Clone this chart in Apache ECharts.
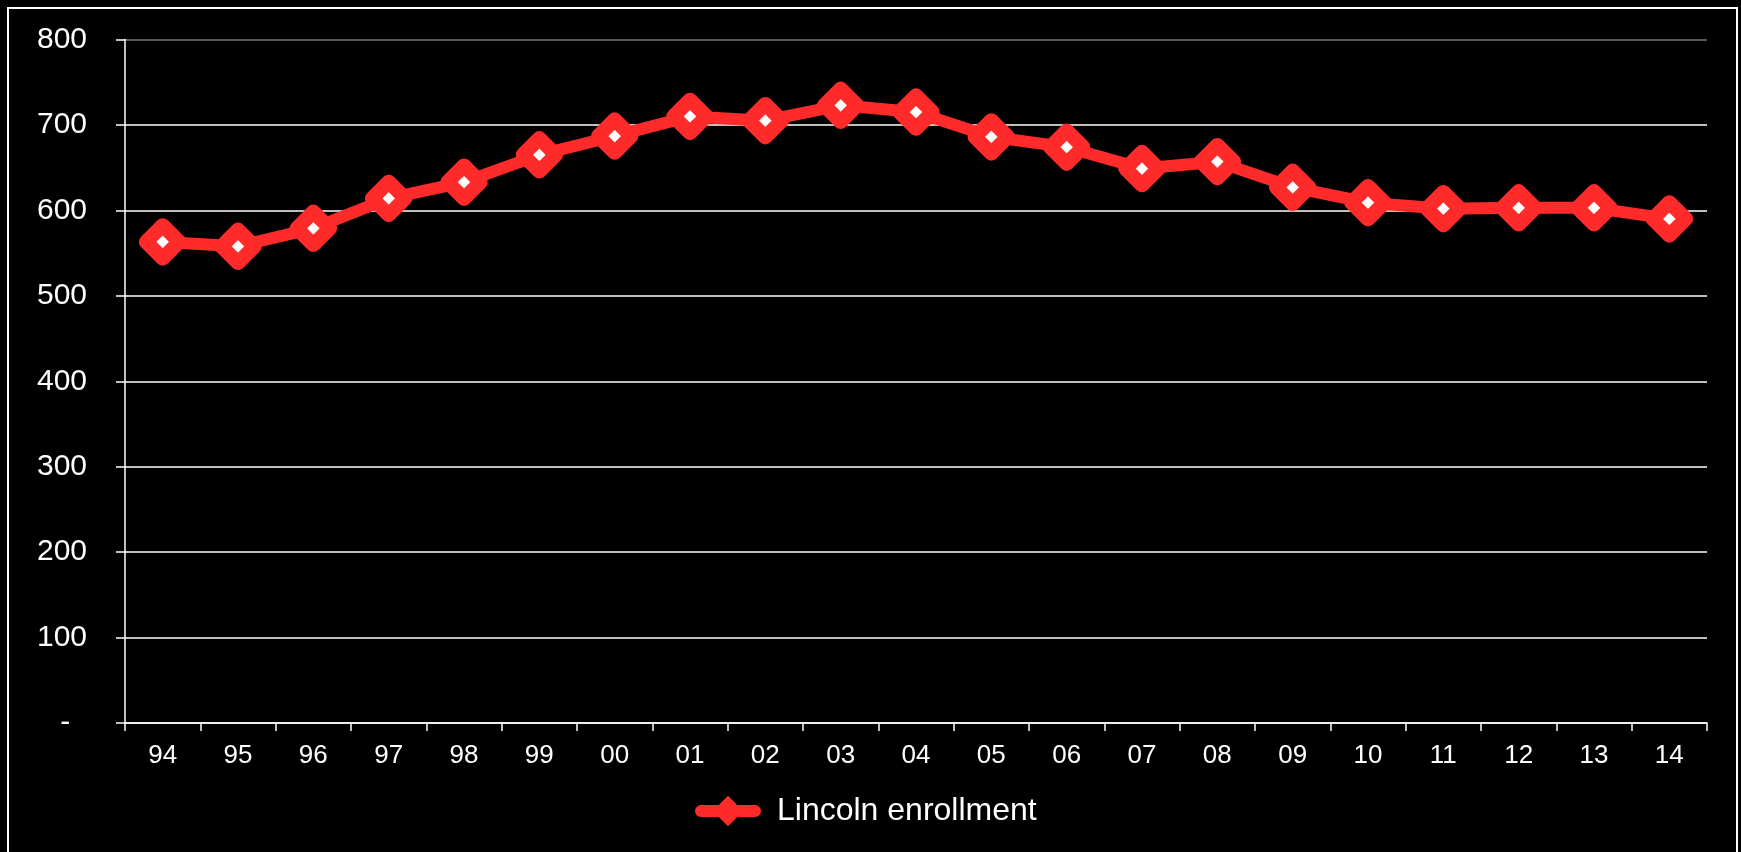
<!DOCTYPE html>
<html>
<head>
<meta charset="utf-8">
<style>
html,body{margin:0;padding:0;background:#000;}
#c{width:1741px;height:852px;}
</style>
<script src="https://cdn.jsdelivr.net/npm/echarts@6/dist/echarts.min.js"></script>
</head>
<body>
<div id="c"></div>
<script>
const categories = ['94','95','96','97','98','99','00','01','02','03','04','05','06','07','08','09','10','11','12','13','14'];
const enrollment = [563,558,579,614,633,665,687,710,705,723,715,686,674,649,657,627,609,602,603,603,590];
const seriesName = 'Lincoln enrollment';
const yTicks = [0,100,200,300,400,500,600,700,800];

const RED = '#FF2B2B';
const FONT = 'Liberation Sans, Arial, sans-serif';
const chart = echarts.init(document.getElementById('c'));
chart.setOption({
  backgroundColor: '#000',
  animation: false,
  graphic: [{
    type: 'rect',
    shape: {x: 8, y: 8, width: 1729, height: 900},
    style: {fill: 'none', stroke: '#fff', lineWidth: 2},
    silent: true
  }],
  grid: {left: 125, right: 34, top: 39.5, bottom: 129, containLabel: false},
  legend: {
    data: [seriesName],
    left: 690,
    top: 790,
    itemWidth: 54,
    itemHeight: 38,
    textStyle: {color: '#fff', fontSize: 32, fontFamily: FONT, padding: [0,0,0,17]},
    itemStyle: {color: RED, borderWidth: 0},
    lineStyle: {width: 12, cap: 'round', color: RED}
  },
  xAxis: {
    type: 'category',
    data: categories,
    boundaryGap: true,
    axisLine: {lineStyle: {color: '#fff', width: 1.5}},
    axisTick: {show: true, length: 8, interval: 0, lineStyle: {color: '#fff', width: 1.5}},
    axisLabel: {color: '#fff', fontSize: 26, fontFamily: FONT, margin: 20, interval: 0}
  },
  yAxis: {
    type: 'value',
    min: yTicks[0],
    max: yTicks[yTicks.length-1],
    interval: 100,
    axisLine: {show: true, lineStyle: {color: '#fff', width: 1.5}},
    axisTick: {show: true, inside: false, length: 9, lineStyle: {color: '#fff', width: 1.5}},
    axisLabel: {
      color: '#fff', fontSize: 30, fontFamily: FONT, margin: 38,
      formatter: v => v === 0 ? '-  ' : String(v)
    },
    splitLine: {show: true, lineStyle: {color: ['#fff','#fff','#fff','#fff','#fff','#fff','#fff','#fff','#777'], width: 1.5}}
  },
  series: [{
    name: seriesName,
    type: 'line',
    data: enrollment,
    lineStyle: {color: RED, width: 12},
    symbol: 'diamond',
    symbolSize: 33,
    itemStyle: {color: '#fff', borderColor: RED, borderWidth: 14.5, borderJoin: 'round'},
    z: 3
  }]
});
</script>
</body>
</html>
